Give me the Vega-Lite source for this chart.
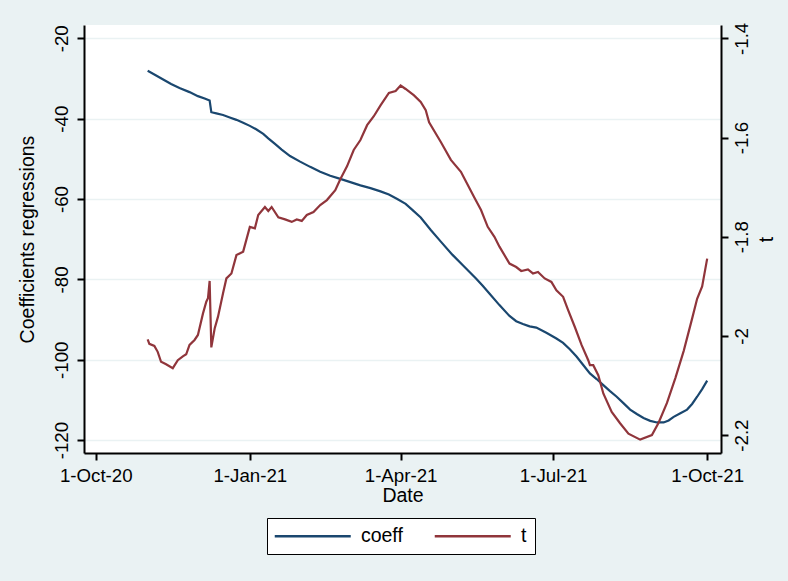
{
  "$schema": "https://vega.github.io/schema/vega-lite/v6.json",
  "width": 637,
  "height": 428,
  "autosize": "none",
  "padding": {"left": 84, "top": 25, "right": 67, "bottom": 128},
  "background": "#EAF2F3",
  "config": {
    "font": "Liberation Sans",
    "locale": {"number": {"decimal": ".", "thousands": ",", "grouping": [3], "currency": ["$", ""], "minus": "-"}},
    "view": {"fill": "white", "stroke": null},
    "axis": {
      "domainColor": "black", "domainWidth": 2,
      "tickColor": "black", "tickWidth": 2, "tickSize": 7,
      "labelColor": "black", "titleColor": "black",
      "labelFontSize": 18.7, "titleFontSize": 19.5, "titleFontWeight": "normal",
      "labelFont": "Liberation Sans", "titleFont": "Liberation Sans"
    }
  },
  "data": {"values": [
    {"date": "2020-11-01", "series": "coeff", "value": -28.1},
    {"date": "2020-11-05", "series": "coeff", "value": -29.0},
    {"date": "2020-11-10", "series": "coeff", "value": -30.2},
    {"date": "2020-11-15", "series": "coeff", "value": -31.4},
    {"date": "2020-11-20", "series": "coeff", "value": -32.4},
    {"date": "2020-11-26", "series": "coeff", "value": -33.4},
    {"date": "2020-12-01", "series": "coeff", "value": -34.4},
    {"date": "2020-12-05", "series": "coeff", "value": -35.0},
    {"date": "2020-12-08", "series": "coeff", "value": -35.5},
    {"date": "2020-12-09", "series": "coeff", "value": -38.4},
    {"date": "2020-12-12", "series": "coeff", "value": -38.7},
    {"date": "2020-12-16", "series": "coeff", "value": -39.1},
    {"date": "2020-12-20", "series": "coeff", "value": -39.7},
    {"date": "2020-12-24", "series": "coeff", "value": -40.3},
    {"date": "2020-12-28", "series": "coeff", "value": -41.0},
    {"date": "2021-01-01", "series": "coeff", "value": -41.8},
    {"date": "2021-01-05", "series": "coeff", "value": -42.7},
    {"date": "2021-01-09", "series": "coeff", "value": -43.8},
    {"date": "2021-01-12", "series": "coeff", "value": -44.9},
    {"date": "2021-01-16", "series": "coeff", "value": -46.3},
    {"date": "2021-01-20", "series": "coeff", "value": -47.7},
    {"date": "2021-01-25", "series": "coeff", "value": -49.3},
    {"date": "2021-01-31", "series": "coeff", "value": -50.7},
    {"date": "2021-02-06", "series": "coeff", "value": -52.0},
    {"date": "2021-02-12", "series": "coeff", "value": -53.2},
    {"date": "2021-02-18", "series": "coeff", "value": -54.2},
    {"date": "2021-02-24", "series": "coeff", "value": -55.0},
    {"date": "2021-03-02", "series": "coeff", "value": -55.8},
    {"date": "2021-03-08", "series": "coeff", "value": -56.6},
    {"date": "2021-03-14", "series": "coeff", "value": -57.3},
    {"date": "2021-03-20", "series": "coeff", "value": -58.1},
    {"date": "2021-03-25", "series": "coeff", "value": -58.9},
    {"date": "2021-03-30", "series": "coeff", "value": -60.0},
    {"date": "2021-04-04", "series": "coeff", "value": -61.2},
    {"date": "2021-04-08", "series": "coeff", "value": -62.7},
    {"date": "2021-04-13", "series": "coeff", "value": -64.6},
    {"date": "2021-04-19", "series": "coeff", "value": -67.7},
    {"date": "2021-04-25", "series": "coeff", "value": -70.6},
    {"date": "2021-05-02", "series": "coeff", "value": -73.9},
    {"date": "2021-05-08", "series": "coeff", "value": -76.4},
    {"date": "2021-05-16", "series": "coeff", "value": -79.8},
    {"date": "2021-05-20", "series": "coeff", "value": -81.6},
    {"date": "2021-05-24", "series": "coeff", "value": -83.5},
    {"date": "2021-05-30", "series": "coeff", "value": -86.4},
    {"date": "2021-06-05", "series": "coeff", "value": -89.1},
    {"date": "2021-06-09", "series": "coeff", "value": -90.4},
    {"date": "2021-06-13", "series": "coeff", "value": -91.1},
    {"date": "2021-06-17", "series": "coeff", "value": -91.7},
    {"date": "2021-06-21", "series": "coeff", "value": -92.0},
    {"date": "2021-06-27", "series": "coeff", "value": -93.3},
    {"date": "2021-07-03", "series": "coeff", "value": -94.7},
    {"date": "2021-07-07", "series": "coeff", "value": -95.8},
    {"date": "2021-07-11", "series": "coeff", "value": -97.4},
    {"date": "2021-07-15", "series": "coeff", "value": -99.2},
    {"date": "2021-07-19", "series": "coeff", "value": -101.3},
    {"date": "2021-07-23", "series": "coeff", "value": -103.4},
    {"date": "2021-07-27", "series": "coeff", "value": -104.8},
    {"date": "2021-07-31", "series": "coeff", "value": -106.3},
    {"date": "2021-08-04", "series": "coeff", "value": -107.8},
    {"date": "2021-08-08", "series": "coeff", "value": -109.2},
    {"date": "2021-08-12", "series": "coeff", "value": -110.8},
    {"date": "2021-08-16", "series": "coeff", "value": -112.4},
    {"date": "2021-08-20", "series": "coeff", "value": -113.5},
    {"date": "2021-08-24", "series": "coeff", "value": -114.5},
    {"date": "2021-08-28", "series": "coeff", "value": -115.2},
    {"date": "2021-09-01", "series": "coeff", "value": -115.6},
    {"date": "2021-09-05", "series": "coeff", "value": -115.6},
    {"date": "2021-09-08", "series": "coeff", "value": -115.1},
    {"date": "2021-09-11", "series": "coeff", "value": -114.2},
    {"date": "2021-09-15", "series": "coeff", "value": -113.3},
    {"date": "2021-09-19", "series": "coeff", "value": -112.4},
    {"date": "2021-09-22", "series": "coeff", "value": -111.0},
    {"date": "2021-09-25", "series": "coeff", "value": -109.2},
    {"date": "2021-09-28", "series": "coeff", "value": -107.3},
    {"date": "2021-10-01", "series": "coeff", "value": -105.2},

    {"date": "2020-11-01", "series": "t", "value": -2.007},
    {"date": "2020-11-02", "series": "t", "value": -2.016},
    {"date": "2020-11-05", "series": "t", "value": -2.020},
    {"date": "2020-11-07", "series": "t", "value": -2.032},
    {"date": "2020-11-09", "series": "t", "value": -2.052},
    {"date": "2020-11-12", "series": "t", "value": -2.057},
    {"date": "2020-11-16", "series": "t", "value": -2.065},
    {"date": "2020-11-19", "series": "t", "value": -2.049},
    {"date": "2020-11-22", "series": "t", "value": -2.041},
    {"date": "2020-11-24", "series": "t", "value": -2.037},
    {"date": "2020-11-26", "series": "t", "value": -2.018},
    {"date": "2020-11-29", "series": "t", "value": -2.008},
    {"date": "2020-12-01", "series": "t", "value": -1.998},
    {"date": "2020-12-04", "series": "t", "value": -1.955},
    {"date": "2020-12-06", "series": "t", "value": -1.931},
    {"date": "2020-12-07", "series": "t", "value": -1.924},
    {"date": "2020-12-08", "series": "t", "value": -1.889},
    {"date": "2020-12-09", "series": "t", "value": -2.023},
    {"date": "2020-12-11", "series": "t", "value": -1.985},
    {"date": "2020-12-13", "series": "t", "value": -1.961},
    {"date": "2020-12-16", "series": "t", "value": -1.914},
    {"date": "2020-12-18", "series": "t", "value": -1.884},
    {"date": "2020-12-21", "series": "t", "value": -1.874},
    {"date": "2020-12-24", "series": "t", "value": -1.837},
    {"date": "2020-12-28", "series": "t", "value": -1.830},
    {"date": "2021-01-01", "series": "t", "value": -1.780},
    {"date": "2021-01-04", "series": "t", "value": -1.783},
    {"date": "2021-01-06", "series": "t", "value": -1.756},
    {"date": "2021-01-10", "series": "t", "value": -1.740},
    {"date": "2021-01-12", "series": "t", "value": -1.748},
    {"date": "2021-01-14", "series": "t", "value": -1.740},
    {"date": "2021-01-18", "series": "t", "value": -1.761},
    {"date": "2021-01-22", "series": "t", "value": -1.765},
    {"date": "2021-01-26", "series": "t", "value": -1.770},
    {"date": "2021-01-29", "series": "t", "value": -1.765},
    {"date": "2021-02-01", "series": "t", "value": -1.768},
    {"date": "2021-02-04", "series": "t", "value": -1.756},
    {"date": "2021-02-08", "series": "t", "value": -1.750},
    {"date": "2021-02-12", "series": "t", "value": -1.736},
    {"date": "2021-02-16", "series": "t", "value": -1.726},
    {"date": "2021-02-21", "series": "t", "value": -1.706},
    {"date": "2021-02-24", "series": "t", "value": -1.684},
    {"date": "2021-02-28", "series": "t", "value": -1.658},
    {"date": "2021-03-04", "series": "t", "value": -1.625},
    {"date": "2021-03-08", "series": "t", "value": -1.605},
    {"date": "2021-03-12", "series": "t", "value": -1.575},
    {"date": "2021-03-16", "series": "t", "value": -1.557},
    {"date": "2021-03-20", "series": "t", "value": -1.535},
    {"date": "2021-03-25", "series": "t", "value": -1.510},
    {"date": "2021-03-29", "series": "t", "value": -1.506},
    {"date": "2021-04-01", "series": "t", "value": -1.495},
    {"date": "2021-04-04", "series": "t", "value": -1.502},
    {"date": "2021-04-09", "series": "t", "value": -1.515},
    {"date": "2021-04-13", "series": "t", "value": -1.528},
    {"date": "2021-04-16", "series": "t", "value": -1.545},
    {"date": "2021-04-18", "series": "t", "value": -1.569},
    {"date": "2021-04-25", "series": "t", "value": -1.609},
    {"date": "2021-05-01", "series": "t", "value": -1.645},
    {"date": "2021-05-07", "series": "t", "value": -1.669},
    {"date": "2021-05-09", "series": "t", "value": -1.682},
    {"date": "2021-05-15", "series": "t", "value": -1.721},
    {"date": "2021-05-19", "series": "t", "value": -1.746},
    {"date": "2021-05-23", "series": "t", "value": -1.780},
    {"date": "2021-05-27", "series": "t", "value": -1.800},
    {"date": "2021-05-30", "series": "t", "value": -1.820},
    {"date": "2021-06-05", "series": "t", "value": -1.854},
    {"date": "2021-06-09", "series": "t", "value": -1.861},
    {"date": "2021-06-12", "series": "t", "value": -1.869},
    {"date": "2021-06-16", "series": "t", "value": -1.866},
    {"date": "2021-06-19", "series": "t", "value": -1.874},
    {"date": "2021-06-22", "series": "t", "value": -1.871},
    {"date": "2021-06-26", "series": "t", "value": -1.884},
    {"date": "2021-06-30", "series": "t", "value": -1.891},
    {"date": "2021-07-03", "series": "t", "value": -1.908},
    {"date": "2021-07-07", "series": "t", "value": -1.921},
    {"date": "2021-07-10", "series": "t", "value": -1.948},
    {"date": "2021-07-14", "series": "t", "value": -1.982},
    {"date": "2021-07-18", "series": "t", "value": -2.018},
    {"date": "2021-07-22", "series": "t", "value": -2.049},
    {"date": "2021-07-23", "series": "t", "value": -2.059},
    {"date": "2021-07-25", "series": "t", "value": -2.059},
    {"date": "2021-07-28", "series": "t", "value": -2.079},
    {"date": "2021-07-31", "series": "t", "value": -2.116},
    {"date": "2021-08-05", "series": "t", "value": -2.153},
    {"date": "2021-08-10", "series": "t", "value": -2.176},
    {"date": "2021-08-15", "series": "t", "value": -2.197},
    {"date": "2021-08-22", "series": "t", "value": -2.209},
    {"date": "2021-08-29", "series": "t", "value": -2.200},
    {"date": "2021-09-02", "series": "t", "value": -2.175},
    {"date": "2021-09-07", "series": "t", "value": -2.135},
    {"date": "2021-09-12", "series": "t", "value": -2.085},
    {"date": "2021-09-17", "series": "t", "value": -2.030},
    {"date": "2021-09-22", "series": "t", "value": -1.965},
    {"date": "2021-09-25", "series": "t", "value": -1.925},
    {"date": "2021-09-28", "series": "t", "value": -1.900},
    {"date": "2021-10-01", "series": "t", "value": -1.844}
  ]},
  "encoding": {
    "x": {
      "field": "date", "type": "temporal",
      "scale": {"type": "utc", "domain": [{"year": 2020, "month": 9, "date": 24, "utc": true}, {"year": 2021, "month": 10, "date": 9, "hours": 6, "utc": true}]},
      "axis": {
        "title": "Date", "grid": false,
        "labelExpr": "utcFormat(datum.value, '%-d-%b-%y')",
        "values": [
          {"year": 2020, "month": 10, "date": 1, "utc": true},
          {"year": 2021, "month": 1, "date": 1, "utc": true},
          {"year": 2021, "month": 4, "date": 1, "utc": true},
          {"year": 2021, "month": 7, "date": 1, "utc": true},
          {"year": 2021, "month": 10, "date": 1, "utc": true}
        ],
        "labelPadding": 6, "labelBaseline": "top", "labelFlush": false, "labelOverlap": false, "titlePadding": 2
      }
    },
    "color": {
      "field": "series", "type": "nominal",
      "scale": {"domain": ["coeff", "t"], "range": ["#1a476f", "#90353b"]},
      "legend": {
        "title": null, "orient": "none", "legendX": 183, "legendY": 493,
        "direction": "horizontal", "symbolType": "M-5,0H5", "symbolSize": 231,
        "symbolOffset": 28,
        "symbolStrokeWidth": 2.5, "labelFontSize": 19.5, "labelColor": "black",
        "labelOffset": 38.4, "columnPadding": 26, "padding": 8,
        "strokeColor": "black", "fillColor": "white"
      }
    }
  },
  "layer": [
    {
      "transform": [{"filter": "datum.series === 'coeff'"}],
      "mark": {"type": "line", "strokeWidth": 2.2},
      "encoding": {
        "y": {
          "field": "value", "type": "quantitative",
          "scale": {"domain": [-123.2, -16.7], "nice": false, "zero": false},
          "axis": {
            "orient": "left", "title": "Coefficients regressions",
            "values": [-120, -100, -80, -60, -40, -20],
            "labelAngle": -90, "labelAlign": "center", "labelBaseline": "alphabetic",
            "labelPadding": 10, "titlePadding": 15,
            "grid": true, "gridColor": "#EAF2F3", "gridWidth": 1.5
          }
        }
      }
    },
    {
      "transform": [{"filter": "datum.series === 't'"}],
      "mark": {"type": "line", "strokeWidth": 2.2},
      "encoding": {
        "y": {
          "field": "value", "type": "quantitative",
          "scale": {"domain": [-2.236, -1.373], "nice": false, "zero": false},
          "axis": {
            "orient": "right", "title": "t", "format": "~g",
            "values": [-2.2, -2, -1.8, -1.6, -1.4],
            "labelAngle": -90, "labelAlign": "center", "labelBaseline": "top",
            "labelPadding": 4, "titleAngle": -90, "titlePadding": 26,
            "grid": false
          }
        }
      }
    }
  ],
  "resolve": {"scale": {"y": "independent"}, "axis": {"y": "independent"}}
}
